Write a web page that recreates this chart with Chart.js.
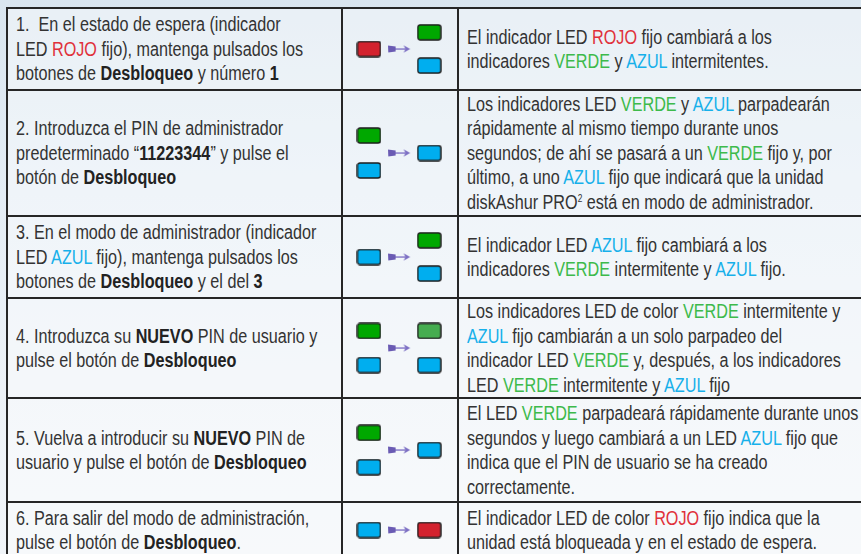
<!DOCTYPE html>
<html>
<head>
<meta charset="utf-8">
<script src="https://cdn.jsdelivr.net/npm/chart.js@4/dist/chart.umd.min.js"></script>
<style>
html, body { margin: 0; padding: 0; width: 861px; height: 554px; overflow: hidden; }
body {
    background: linear-gradient(180deg, #d9e5ef 0%, #e4edf5 35%, #edf2f7 70%, #f1f5f9 100%);
    font-family: "Liberation Sans", Arial, sans-serif;
    color: #333;
}
table { position: absolute; left: 6px; top: 7px; border-collapse: collapse; table-layout: fixed; width: 880px; }
td {
    border: 2px solid #262626; padding: 0 0 0 8px; font-size: 19.5px; line-height: 24.5px;
    vertical-align: middle; white-space: nowrap; background: rgba(255, 255, 255, 0.42);
}
td.led { padding: 0; }
td .txt { display: inline-block; transform: scaleX(0.83); transform-origin: 0 50%; }
td b { color: #222; }
.r { color: #e0303a; }
.g { color: #3dba4b; }
.a { color: #17b0ea; }
sup { font-size: 10px; line-height: 0; vertical-align: 7px; }
</style>
</head>
<body>
<table id="tabla">
    <colgroup><col style="width:335px"><col style="width:116px"><col style="width:429px"></colgroup>
    <tbody></tbody>
</table>
<script>
// textos de cada paso
const pasos = [
    '1.&nbsp; En el estado de espera (indicador<br>LED <span class="r">ROJO</span> fijo), mantenga pulsados los<br>botones de <b>Desbloqueo</b> y número <b>1</b>',
    '2. Introduzca el PIN de administrador<br>predeterminado “<b>11223344</b>” y pulse el<br>botón de <b>Desbloqueo</b>',
    '3. En el modo de administrador (indicador<br>LED <span class="a">AZUL</span> fijo), mantenga pulsados los<br>botones de <b>Desbloqueo</b> y el del <b>3</b>',
    '4. Introduzca su <b>NUEVO</b> PIN de usuario y<br>pulse el botón de <b>Desbloqueo</b>',
    '5. Vuelva a introducir su <b>NUEVO</b> PIN de<br>usuario y pulse el botón de <b>Desbloqueo</b>',
    '6. Para salir del modo de administración,<br>pulse el botón de <b>Desbloqueo</b>.'
]
const resultados = [
    'El indicador LED <span class="r">ROJO</span> fijo cambiará a los<br>indicadores <span class="g">VERDE</span> y <span class="a">AZUL</span> intermitentes.',
    'Los indicadores LED <span class="g">VERDE</span> y <span class="a">AZUL</span> parpadearán<br>rápidamente al mismo tiempo durante unos<br>segundos; de ahí se pasará a un <span class="g">VERDE</span> fijo y, por<br>último, a uno <span class="a">AZUL</span> fijo que indicará que la unidad<br>diskAshur PRO<sup>2</sup> está en modo de administrador.',
    'El indicador LED <span class="a">AZUL</span> fijo cambiará a los<br>indicadores <span class="g">VERDE</span> intermitente y <span class="a">AZUL</span> fijo.',
    'Los indicadores LED de color <span class="g">VERDE</span> intermitente y<br><span class="a">AZUL</span> fijo cambiarán a un solo parpadeo del<br>indicador LED <span class="g">VERDE</span> y, después, a los indicadores<br>LED <span class="g">VERDE</span> intermitente y <span class="a">AZUL</span> fijo',
    'El LED <span class="g">VERDE</span> parpadeará rápidamente durante unos<br>segundos y luego cambiará a un LED <span class="a">AZUL</span> fijo que<br>indica que el PIN de usuario se ha creado<br>correctamente.',
    'El indicador LED de color <span class="r">ROJO</span> fijo indica que la<br>unidad está bloqueada y en el estado de espera.'
]
// estado de los LED antes y despues de cada paso
const ledAntes = [['rojo'], ['verde', 'azul'], ['azul'], ['verde', 'azul'], ['verde', 'azul'], ['azul']]
const ledDespues = [['verde', 'azul'], ['azul'], ['verde', 'azul'], ['verdeInt', 'azul'], ['azul'], ['rojo']]

const altoFila = [82, 126, 82, 100, 104, 56]
const coloresLed = { rojo: '#d3222e', verde: '#00a800', verdeInt: '#46ad50', azul: '#00aeef' }

function imagenLed(color) {
    let c = document.createElement('canvas')
    c.width = 25; c.height = 17
    let ctx = c.getContext('2d')
    ctx.beginPath()
    ctx.roundRect(1, 1, 23, 15, 2.5)
    ctx.fillStyle = color
    ctx.fill()
    ctx.lineWidth = 1.4
    ctx.strokeStyle = '#1c1c1c'
    ctx.stroke()
    return c
}

function imagenFlecha() {
    let c = document.createElement('canvas')
    c.width = 23; c.height = 10
    let ctx = c.getContext('2d')
    ctx.fillStyle = '#6a5bb3'
    ctx.beginPath()
    ctx.moveTo(0, 1.5); ctx.lineTo(8, 2.5); ctx.lineTo(8, 7.5); ctx.lineTo(0.5, 8.5)
    ctx.closePath(); ctx.fill()
    ctx.fillStyle = '#8b7fca'
    ctx.fillRect(8, 4.3, 11, 1.5)
    ctx.fillStyle = '#7d70c4'
    ctx.beginPath()
    ctx.moveTo(22.5, 5); ctx.lineTo(16, 1.2); ctx.lineTo(17.8, 5); ctx.lineTo(16, 8.8)
    ctx.closePath(); ctx.fill()
    return c
}

let imagenes = {}
for (let k in coloresLed) imagenes[k] = imagenLed(coloresLed[k])
let flecha = imagenFlecha()

function puntos(leds, columna) {
    let n = leds.length
    return leds.map((estado, i) => ({ x: columna, y: (n - 1) / 2 - i, estado: estado }))
}

let tbody = document.querySelector('#tabla tbody')
pasos.forEach((texto, i) => {
    let tr = document.createElement('tr')
    tr.style.height = altoFila[i] + 'px'
    tr.innerHTML = '<td><span class="txt">' + texto + '</span></td><td class="led"></td><td><span class="txt">' + resultados[i] + '</span></td>'
    tbody.appendChild(tr)
})

document.querySelectorAll('td.led').forEach((td, i) => {
    let w = td.clientWidth, h = altoFila[i] - 2
    let canvas = document.createElement('canvas')
    canvas.width = w; canvas.height = h
    canvas.style.display = 'block'
    td.appendChild(canvas)
    let unidad = 38
    new Chart(canvas.getContext('2d'), {
        type: 'scatter',
        data: {
            datasets: [
                { data: puntos(ledAntes[i], 0).concat(puntos(ledDespues[i], 2)), pointStyle: c => imagenes[c.raw.estado] },
                { data: [{ x: 1, y: 0 }], pointStyle: flecha }
            ]
        },
        options: {
            responsive: false,
            animation: false,
            events: [],
            layout: { padding: 0 },
            plugins: { legend: { display: false }, tooltip: { enabled: false } },
            scales: {
                x: { type: 'linear', display: false, min: -23 / 33, max: (w - 23) / 33 },
                y: { type: 'linear', display: false, min: -h / 2 / unidad, max: h / 2 / unidad }
            }
        }
    })
})
</script>
</body>
</html>
